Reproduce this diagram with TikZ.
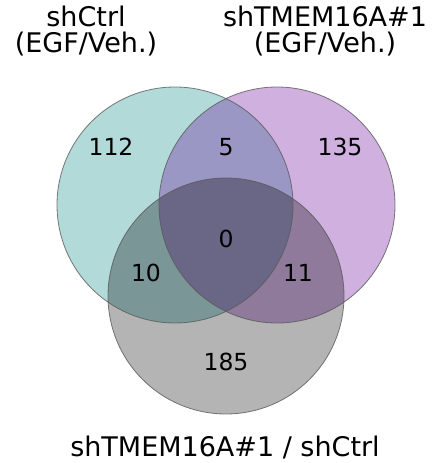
\documentclass[tikz,border=0pt]{standalone}
\usepackage{fontspec}
\setmainfont{DejaVu Sans}
\definecolor{cL}{RGB}{178,218,217}
\definecolor{cR}{RGB}{207,176,222}
\definecolor{cB}{RGB}{180,180,180}
\definecolor{cLR}{RGB}{154,151,196}
\definecolor{cLB}{RGB}{122,150,150}
\definecolor{cRB}{RGB}{144,122,155}
\definecolor{cLRB}{RGB}{106,102,134}
\begin{document}
\begin{tikzpicture}[x=1pt,y=-1pt,
  settitle/.style={font=\fontsize{27}{26}\selectfont, align=center, inner sep=0pt, anchor=base},
  setnum/.style={font=\fontsize{23.5}{26}\selectfont, inner sep=0pt},
  rim/.style={draw=black!65, line width=0.8pt, draw opacity=0.8}]
\useasboundingbox (0,0) rectangle (433,463);
\def\rr{118}
\coordinate (cl) at (175,205);
\coordinate (cr) at (277,205);
\coordinate (cb) at (226,296);
% single regions
\fill[cL] (cl) circle (\rr);
\fill[cR] (cr) circle (\rr);
\fill[cB] (cb) circle (\rr);
% pairwise overlaps
\begin{scope}
  \clip (cl) circle (\rr);
  \fill[cLR] (cr) circle (\rr);
\end{scope}
\begin{scope}
  \clip (cl) circle (\rr);
  \fill[cLB] (cb) circle (\rr);
\end{scope}
\begin{scope}
  \clip (cr) circle (\rr);
  \fill[cRB] (cb) circle (\rr);
\end{scope}
\begin{scope}
  \clip (cl) circle (\rr);
  \clip (cr) circle (\rr);
  \fill[cLRB] (cb) circle (\rr);
\end{scope}
% outlines
\draw[rim] (cl) circle (\rr);
\draw[rim] (cr) circle (\rr);
\draw[rim] (cb) circle (\rr);
% titles
\node[settitle] (tl) at (86,52) {shCtrl\\(EGF/Veh.)};
\node[settitle] (tr) at (325,52) {shTMEM16A\#1\\(EGF/Veh.)};
\node[settitle] (tb) at (225,456) {shTMEM16A\#1 / shCtrl};
% numbers
\node[setnum] (n1) at (111,147) {112};
\node[setnum] (n2) at (226,147) {5};
\node[setnum] (n3) at (340,147) {135};
\node[setnum] (n4) at (226,239) {0};
\node[setnum] (n5) at (146,273) {10};
\node[setnum] (n6) at (298,273) {11};
\node[setnum] (n7) at (226,362) {185};
\end{tikzpicture}
\end{document}
